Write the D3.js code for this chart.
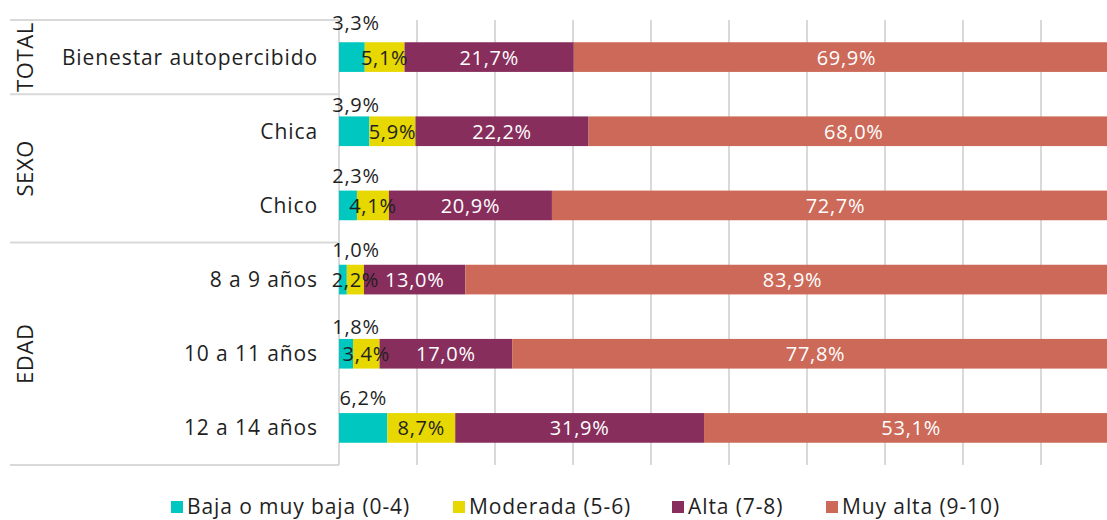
<!DOCTYPE html>
<html>
<head>
<meta charset="utf-8">
<script src="https://cdn.jsdelivr.net/npm/d3@7"></script>
<style>
    body { margin: 0; background: #fff; }
    svg { display: block; font-family: "Open Sans", sans-serif; }
    .cat { font-size: 21px; fill: #1f1f1f; letter-spacing: 0.9px; }
    .grp { font-size: 22px; fill: #1f1f1f; letter-spacing: 0.6px; }
    .val { font-size: 20px; letter-spacing: 0.7px; }
    .leg { font-size: 21px; fill: #1f1f1f; letter-spacing: 0.9px; }
</style>
</head>
<body>
<svg width="1107" height="520"></svg>
<script>
// **** data ****
var categories = ["Bienestar autopercibido", "Chica", "Chico", "8 a 9 años", "10 a 11 años", "12 a 14 años"];
var groupOf = ["TOTAL", "SEXO", "SEXO", "EDAD", "EDAD", "EDAD"];
var groupNames = ["TOTAL", "SEXO", "EDAD"];
var seriesNames = ["Baja o muy baja (0-4)", "Moderada (5-6)", "Alta (7-8)", "Muy alta (9-10)"];
var baja = [3.3, 3.9, 2.3, 1.0, 1.8, 6.2];
var moderada = [5.1, 5.9, 4.1, 2.2, 3.4, 8.7];
var alta = [21.7, 22.2, 20.9, 13.0, 17.0, 31.9];
var muyAlta = [69.9, 68.0, 72.7, 83.9, 77.8, 53.1];
var xTicks = [0, 10, 20, 30, 40, 50, 60, 70, 80, 90, 100];

// styling only
var colors = ["#00c7bf", "#e6d800", "#872e5d", "#cc6958"];
var textColors = ["#1f1f1f", "#1f1f1f", "#ffffff", "#ffffff"];
var lowLabelNudge = [-4, 4, 0, 0, 3, 0];
var legendX = [171, 453, 672, 826];

var rows = categories.map(function(c, i) {
    return { cat: c, s0: baja[i], s1: moderada[i], s2: alta[i], s3: muyAlta[i] };
});
var stacked = d3.stack().keys(["s0", "s1", "s2", "s3"])(rows);

// **** scales ****
var plotTop = 20, plotBottom = 465, plotLeft = 339;
var xScale = d3.scaleLinear().domain([0, 100]).range([plotLeft, 1119]);
var yScale = d3.scaleBand().domain(categories).range([plotTop, plotBottom])
    .paddingInner(0.6).paddingOuter(0.3);
var step = yScale.step();

var fmt = function(v) { return d3.format(".1f")(v).replace(".", ",") + "%"; };

var svg = d3.select("svg");

// gridlines
svg.append("g").selectAll("line")
    .data(xTicks)
    .enter()
    .append("line")
    .attr("x1", function(d) { return xScale(d); })
    .attr("x2", function(d) { return xScale(d); })
    .attr("y1", plotTop)
    .attr("y2", plotBottom)
    .attr("stroke", "#d9d9d9")
    .attr("stroke-width", 2);

// category box lines on the left
var groupRange = groupNames.map(function(g) {
    var members = categories.filter(function(c, i) { return groupOf[i] === g; });
    var y0 = plotTop + categories.indexOf(members[0]) * step;
    return { name: g, y0: y0, y1: y0 + members.length * step };
});
var sepY = [plotTop].concat(groupRange.map(function(g) { return g.y1; }));

svg.append("g").selectAll("line")
    .data(sepY)
    .enter()
    .append("line")
    .attr("x1", 10)
    .attr("x2", plotLeft)
    .attr("y1", function(d) { return d; })
    .attr("y2", function(d) { return d; })
    .attr("stroke", "#d9d9d9")
    .attr("stroke-width", 2);

// group labels
svg.append("g").selectAll("text")
    .data(groupRange)
    .enter()
    .append("text")
    .attr("class", "grp")
    .attr("text-anchor", "middle")
    .attr("transform", function(d) { return "translate(33," + (d.y0 + d.y1) / 2 + ") rotate(-90)"; })
    .text(function(d) { return d.name; });

// category labels
svg.append("g").selectAll("text")
    .data(categories)
    .enter()
    .append("text")
    .attr("class", "cat")
    .attr("text-anchor", "end")
    .attr("x", 318)
    .attr("y", function(d) { return yScale(d) + yScale.bandwidth() / 2 + 7.5; })
    .text(function(d) { return d; });

// **** bars ****
var series = svg.append("g").selectAll("g")
    .data(stacked)
    .enter()
    .append("g")
    .attr("fill", function(d, i) { return colors[i]; });

series.selectAll("rect")
    .data(function(d) { return d; })
    .enter()
    .append("rect")
    .attr("x", function(d) { return xScale(d[0]); })
    .attr("y", function(d) { return yScale(d.data.cat); })
    .attr("width", function(d) { return xScale(d[1]) - xScale(d[0]); })
    .attr("height", yScale.bandwidth());

// value labels
stacked.forEach(function(s, si) {
    svg.append("g").selectAll("text")
        .data(s)
        .enter()
        .append("text")
        .attr("class", "val")
        .attr("text-anchor", "middle")
        .attr("fill", textColors[si])
        .attr("x", function(d) {
            var c = (xScale(d[0]) + xScale(d[1])) / 2;
            return si === 0 ? Math.max(c, 356) : c;
        })
        .attr("y", function(d, i) {
            if (si === 0) return yScale(d.data.cat) - 8 + lowLabelNudge[i];
            return yScale(d.data.cat) + yScale.bandwidth() / 2 + 7.5;
        })
        .text(function(d) { return fmt(d[1] - d[0]); });
});

// **** legend ****
var legend = svg.append("g").selectAll("g")
    .data(seriesNames)
    .enter()
    .append("g")
    .attr("transform", function(d, i) { return "translate(" + legendX[i] + ",0)"; });

legend.append("rect")
    .attr("y", 501)
    .attr("width", 12)
    .attr("height", 12)
    .attr("fill", function(d, i) { return colors[i]; });

legend.append("text")
    .attr("class", "leg")
    .attr("x", 16)
    .attr("y", 514)
    .text(function(d) { return d; });
</script>
</body>
</html>
